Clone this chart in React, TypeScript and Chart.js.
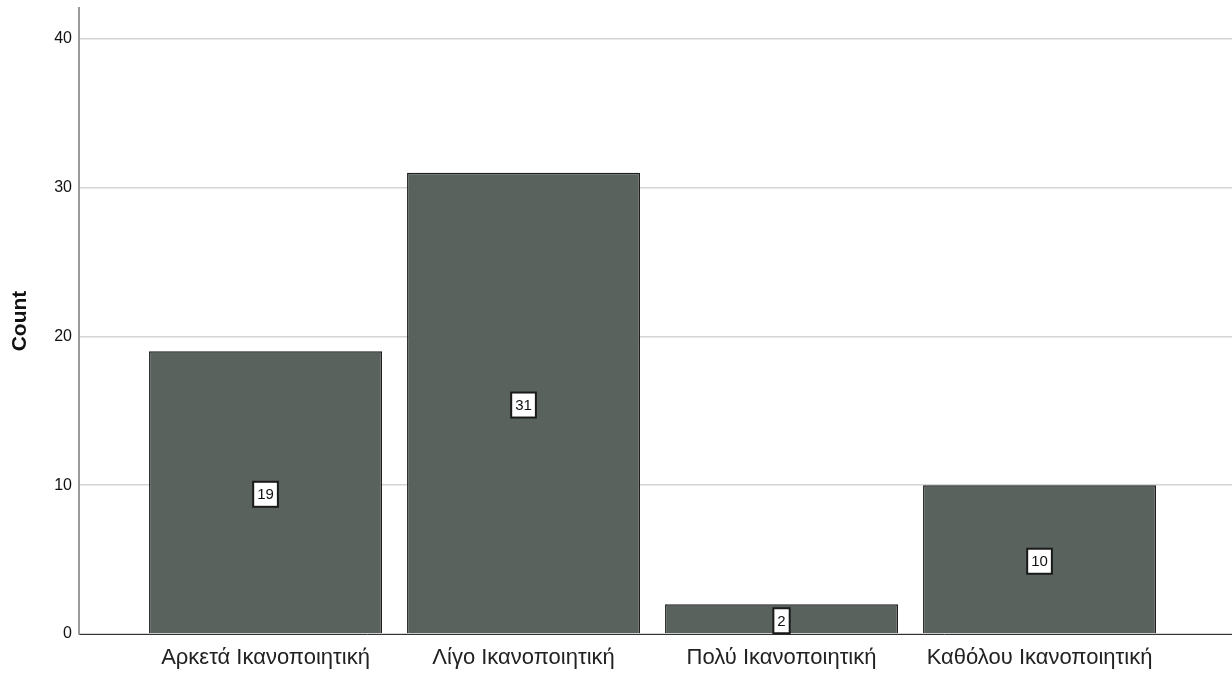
import React, { useEffect, useRef } from "react";
import { Chart, registerables } from "chart.js";

Chart.register(...registerables);

const categories = ["Αρκετά Ικανοποιητική", "Λίγο Ικανοποιητική", "Πολύ Ικανοποιητική", "Καθόλου Ικανοποιητική"];
const counts = [19, 31, 2, 10];
const yTicks = [0, 10, 20, 30, 40];

const FONT = "'Liberation Sans', Arial, sans-serif";

const labelBoxPlugin = {
  id: "labelBoxes",
  afterDatasetsDraw(chart: any) {
    const ctx = chart.ctx;
    const meta = chart.getDatasetMeta(0);
    ctx.save();
    ctx.font = `15px ${FONT}`;
    ctx.textAlign = "center";
    ctx.textBaseline = "middle";
    meta.data.forEach((bar: any, i: number) => {
      const v = counts[i];
      const text = String(v);
      const cx = bar.x;
      const cy = (bar.y + bar.base) / 2 + 2;
      const tw = ctx.measureText(text).width;
      const w = tw + 8;
      const h = 25;
      ctx.fillStyle = "#ffffff";
      ctx.fillRect(cx - w / 2, cy - h / 2, w, h);
      ctx.strokeStyle = "#1a1a1a";
      ctx.lineWidth = 2;
      ctx.strokeRect(cx - w / 2, cy - h / 2, w, h);
      ctx.fillStyle = "#111";
      ctx.fillText(text, cx, cy + 1);
    });
    ctx.restore();
  },
};

export default function App() {
  const ref = useRef<HTMLCanvasElement | null>(null);
  useEffect(() => {
    document.body.style.margin = "0";
    const canvas = ref.current!;
    const chart = new Chart(canvas, {
      type: "bar",
      data: {
        datasets: [
          {
            data: counts.map((c, i) => ({ x: i, y: c })),
            backgroundColor: "#5a625d",
            borderColor: "#1e1e1e",
            borderWidth: 1.5,
            barPercentage: 0.903,
            categoryPercentage: 1,
          },
        ],
      },
      options: {
        animation: false,
        responsive: false,
        maintainAspectRatio: false,
        layout: { padding: { top: 8, right: 0, left: 0, bottom: 0 } },
        plugins: { legend: { display: false }, tooltip: { enabled: false } },
        scales: {
          x: {
            type: "linear",
            offset: false,
            min: -0.723,
            max: 3.746,
            afterBuildTicks: (scale: any) => {
              scale.ticks = categories.map((_, i) => ({ value: i }));
            },
            afterFit: (scale: any) => {
              scale.height = 39;
              scale.paddingLeft = 0;
              scale.paddingRight = 0;
            },
            grid: { display: false, drawTicks: false, offset: false },
            border: { display: true, color: "#333333", width: 1 },
            ticks: {
              autoSkip: false,
              maxRotation: 0,
              padding: 11,
              color: "#222222",
              font: { family: FONT, size: 22 },
              callback: (v: any) => categories[Math.round(Number(v))] ?? "",
            },
          },
          y: {
            type: "linear",
            min: 0,
            max: 42.08,
            afterBuildTicks: (scale: any) => {
              scale.ticks = yTicks.map((v) => ({ value: v }));
            },
            afterFit: (scale: any) => {
              scale.width = 79;
              scale.paddingTop = 0;
              scale.paddingBottom = 0;
            },
            grid: { color: "#d4d4d4", lineWidth: 1.5, drawTicks: false },
            border: { display: true, color: "#9a9a9a", width: 2 },
            title: {
              display: true,
              text: "Count",
              color: "#111111",
              font: { family: FONT, size: 21, weight: "bold" },
              padding: { top: 8, bottom: 2 },
            },
            ticks: {
              padding: 7,
              color: "#111111",
              font: { family: FONT, size: 16 },
            },
          },
        },
      },
      plugins: [labelBoxPlugin],
    });
    return () => chart.destroy();
  }, []);
  return <canvas ref={ref} width={1232} height={673} style={{ display: "block" }} />;
}
